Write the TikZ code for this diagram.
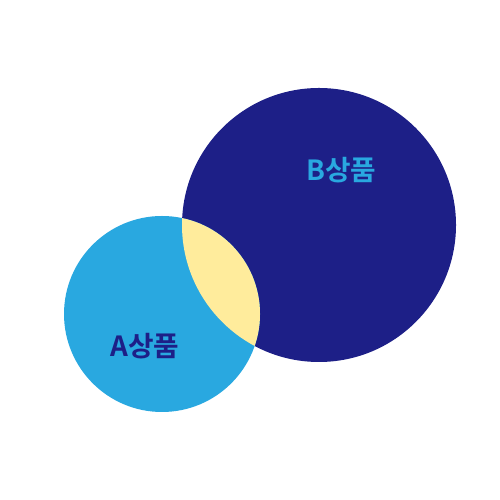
\documentclass[tikz,border=0pt]{standalone}
\usepackage{fontspec}
\newfontfamily\kofont{Noto Sans CJK KR}[BoldFont={* Bold}]
\usepackage{xcolor}
\usetikzlibrary{positioning}
\definecolor{navyB}{HTML}{1D1F87}
\definecolor{skyA}{HTML}{29A8E0}
\definecolor{paleY}{HTML}{FFEC9C}

\begin{document}
\begin{tikzpicture}[
  lbl/.style={font=\kofont\bfseries\fontsize{15.8}{19}\selectfont, inner sep=0pt}
]
  \useasboundingbox (0,0) rectangle (10,10);
  \coordinate (cB) at (6.38,5.5);
  \coordinate (cA) at (3.24,3.72);

  % two sets and their overlap
  \fill[navyB] (cB) circle (2.74);
  \fill[skyA]  (cA) circle (1.96);
  \begin{scope}
    \clip (cB) circle (2.74);
    \fill[paleY] (cA) circle (1.96);
  \end{scope}

  \node[lbl, text=skyA]  (labB) at (6.83,6.6)  {B상품};
  \node[lbl, text=navyB] (labA) at (2.9,3.08)  {A상품};
\end{tikzpicture}
\end{document}
